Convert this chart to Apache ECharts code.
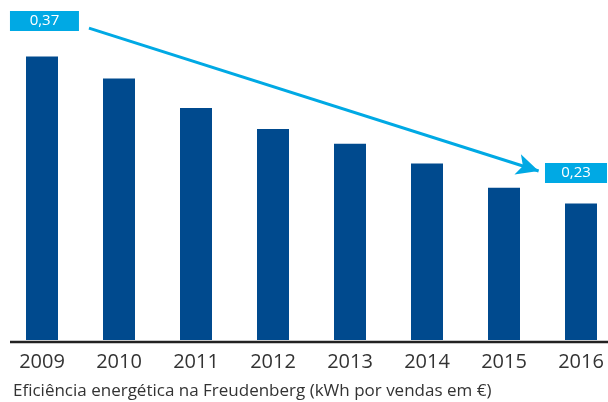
<!DOCTYPE html>
<html><head><meta charset="utf-8">
<script src="https://cdn.jsdelivr.net/npm/echarts@6/dist/echarts.min.js"></script>
<style>html,body{margin:0;padding:0;background:#fff}#c{width:608px;height:402px}</style>
</head><body><div id="c"></div>
<script>
const years = ['2009','2010','2011','2012','2013','2014','2015','2016'];
const efficiency = [0.37, 0.349, 0.321, 0.301, 0.287, 0.268, 0.245, 0.23];
const calloutTexts = ['0,37', '0,23'];
const axisTitle = 'Eficiência energética na Freudenberg (kWh por vendas em €)';

const FONT = '"Open Sans", "Noto Sans", sans-serif';
const chart = echarts.init(document.getElementById('c'), null, {renderer: 'canvas'});
chart.setOption({
  animation: false,
  title: {
    text: axisTitle, left: 8, top: 378,
    textStyle: {fontFamily: FONT, fontSize: 17, fontWeight: 'normal', color: '#333'}
  },
  grid: {left: 3.5, width: 616, top: 4, bottom: 62, containLabel: false, outerBoundsMode: 'none'},
  xAxis: [
    {type: 'category', data: years, axisLine: {show: false}, axisTick: {show: false},
     axisLabel: {fontFamily: FONT, fontSize: 20, color: '#333', margin: 12}},
    {type: 'value', min: -0.5, max: 7.5, show: false}
  ],
  yAxis: {type: 'value', min: 0.1, max: 0.42, show: false, splitLine: {show: false}},
  graphic: [{type: 'line', shape: {x1: 10, y1: 342, x2: 608, y2: 342}, style: {stroke: '#222', lineWidth: 2.5}}],
  series: [
    {type: 'bar', data: efficiency, barWidth: 32, itemStyle: {color: '#004a8e'}},
    {type: 'line', xAxisIndex: 1, data: [], symbol: 'none',
     markLine: {
       silent: true, symbol: ['none', 'arrow'], symbolSize: [16, 22],
       lineStyle: {color: '#00a9e4', width: 3, type: 'solid'},
       label: {show: false},
       data: [[{coord: [0.61, 0.397]}, {coord: [6.45, 0.261]}]]
     },
     markPoint: {
       silent: true, symbol: 'rect',
       itemStyle: {color: '#00a9e4'},
       label: {show: true, color: '#fff', fontFamily: FONT, fontSize: 15},
       data: [
         {coord: [0.032, 0.4038], symbolSize: [69, 20], value: calloutTexts[0], label: {formatter: calloutTexts[0]}},
         {coord: [6.935, 0.259], symbolSize: [62, 20], value: calloutTexts[1], label: {formatter: calloutTexts[1]}}
       ]
     }
    }
  ]
});
</script></body></html>
